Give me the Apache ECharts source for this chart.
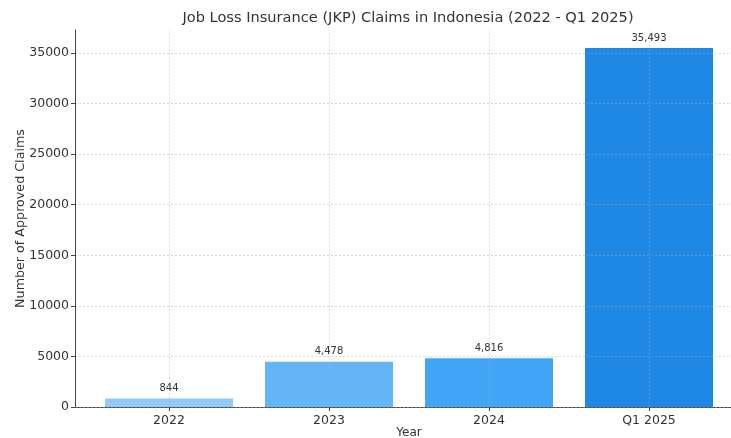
<!DOCTYPE html>
<html>
<head>
<meta charset="utf-8">
<script src="https://cdn.jsdelivr.net/npm/echarts@6/dist/echarts.min.js"></script>
<style>html,body{margin:0;padding:0;background:#fff}#c{width:731px;height:438px}</style>
</head>
<body>
<div id="c"></div>
<script>
const categories = ['2022', '2023', '2024', 'Q1 2025'];
const claims = [844, 4478, 4816, 35493];
const barColors = ['#90CAF9', '#64B5F6', '#42A5F5', '#1E88E5'];
const yTicks = [0, 5000, 10000, 15000, 20000, 25000, 30000, 35000];

const FONT = 'DejaVu Sans';
const idx = categories.map((_, i) => i);
const chart = echarts.init(document.getElementById('c'), null, {renderer: 'canvas'});
chart.setOption({
  animation: false,
  backgroundColor: '#fff',
  textStyle: {fontFamily: FONT},
  title: {
    text: 'Job Loss Insurance (JKP) Claims in Indonesia (2022 - Q1 2025)',
    left: 403, top: 6, textAlign: 'center',
    textStyle: {fontFamily: FONT, fontSize: 14.6, fontWeight: 'normal', color: '#333'}
  },
  grid: {left: 75, top: 30, width: 668, height: 377, containLabel: false, outerBoundsMode: 'none'},
  xAxis: {
    type: 'value', min: -0.5875, max: 3.5875,
    name: 'Year', nameLocation: 'middle', nameGap: 20, nameMoveOverlap: false,
    nameTextStyle: {fontFamily: FONT, fontSize: 12, color: '#333'},
    axisLine: {show: true, onZero: false, lineStyle: {color: '#444', width: 1}},
    axisTick: {show: true, customValues: idx, length: 4, lineStyle: {color: '#444'}},
    axisLabel: {customValues: idx, formatter: v => categories[Math.round(v)], fontFamily: FONT, fontSize: 12.5, color: '#333', margin: 7},
    splitLine: {show: false}
  },
  yAxis: {
    type: 'value', min: 0, max: 37267.65, z: 5,
    name: 'Number of Approved Claims', nameLocation: 'middle', nameGap: 48, nameRotate: 90, nameMoveOverlap: false,
    nameTextStyle: {fontFamily: FONT, fontSize: 12.7, color: '#333'},
    axisLine: {show: true, onZero: false, lineStyle: {color: '#444', width: 1}},
    axisTick: {show: true, customValues: yTicks, length: 4, lineStyle: {color: '#444'}},
    axisLabel: {customValues: yTicks, formatter: v => String(v), fontFamily: FONT, fontSize: 12.5, color: '#333', margin: 6},
    interval: 5000,
    splitLine: {show: true, lineStyle: {color: 'rgba(170,170,170,0.45)', type: [2, 2], width: 1}}
  },
  series: [{
    type: 'bar',
    barWidth: 128,
    data: claims.map((v, i) => ({value: [i, v], itemStyle: {color: barColors[i]}})),
    label: {
      show: true, position: 'top', distance: 5,
      formatter: p => p.value[1].toLocaleString('en-US'),
      fontFamily: FONT, fontSize: 10, color: '#333'
    },
    markLine: {
      silent: true, symbol: 'none', z: 10,
      label: {show: false},
      lineStyle: {color: 'rgba(170,170,170,0.45)', type: [2, 2], width: 1},
      data: idx.map(i => ({xAxis: i}))
    }
  }]
});
</script>
</body>
</html>
